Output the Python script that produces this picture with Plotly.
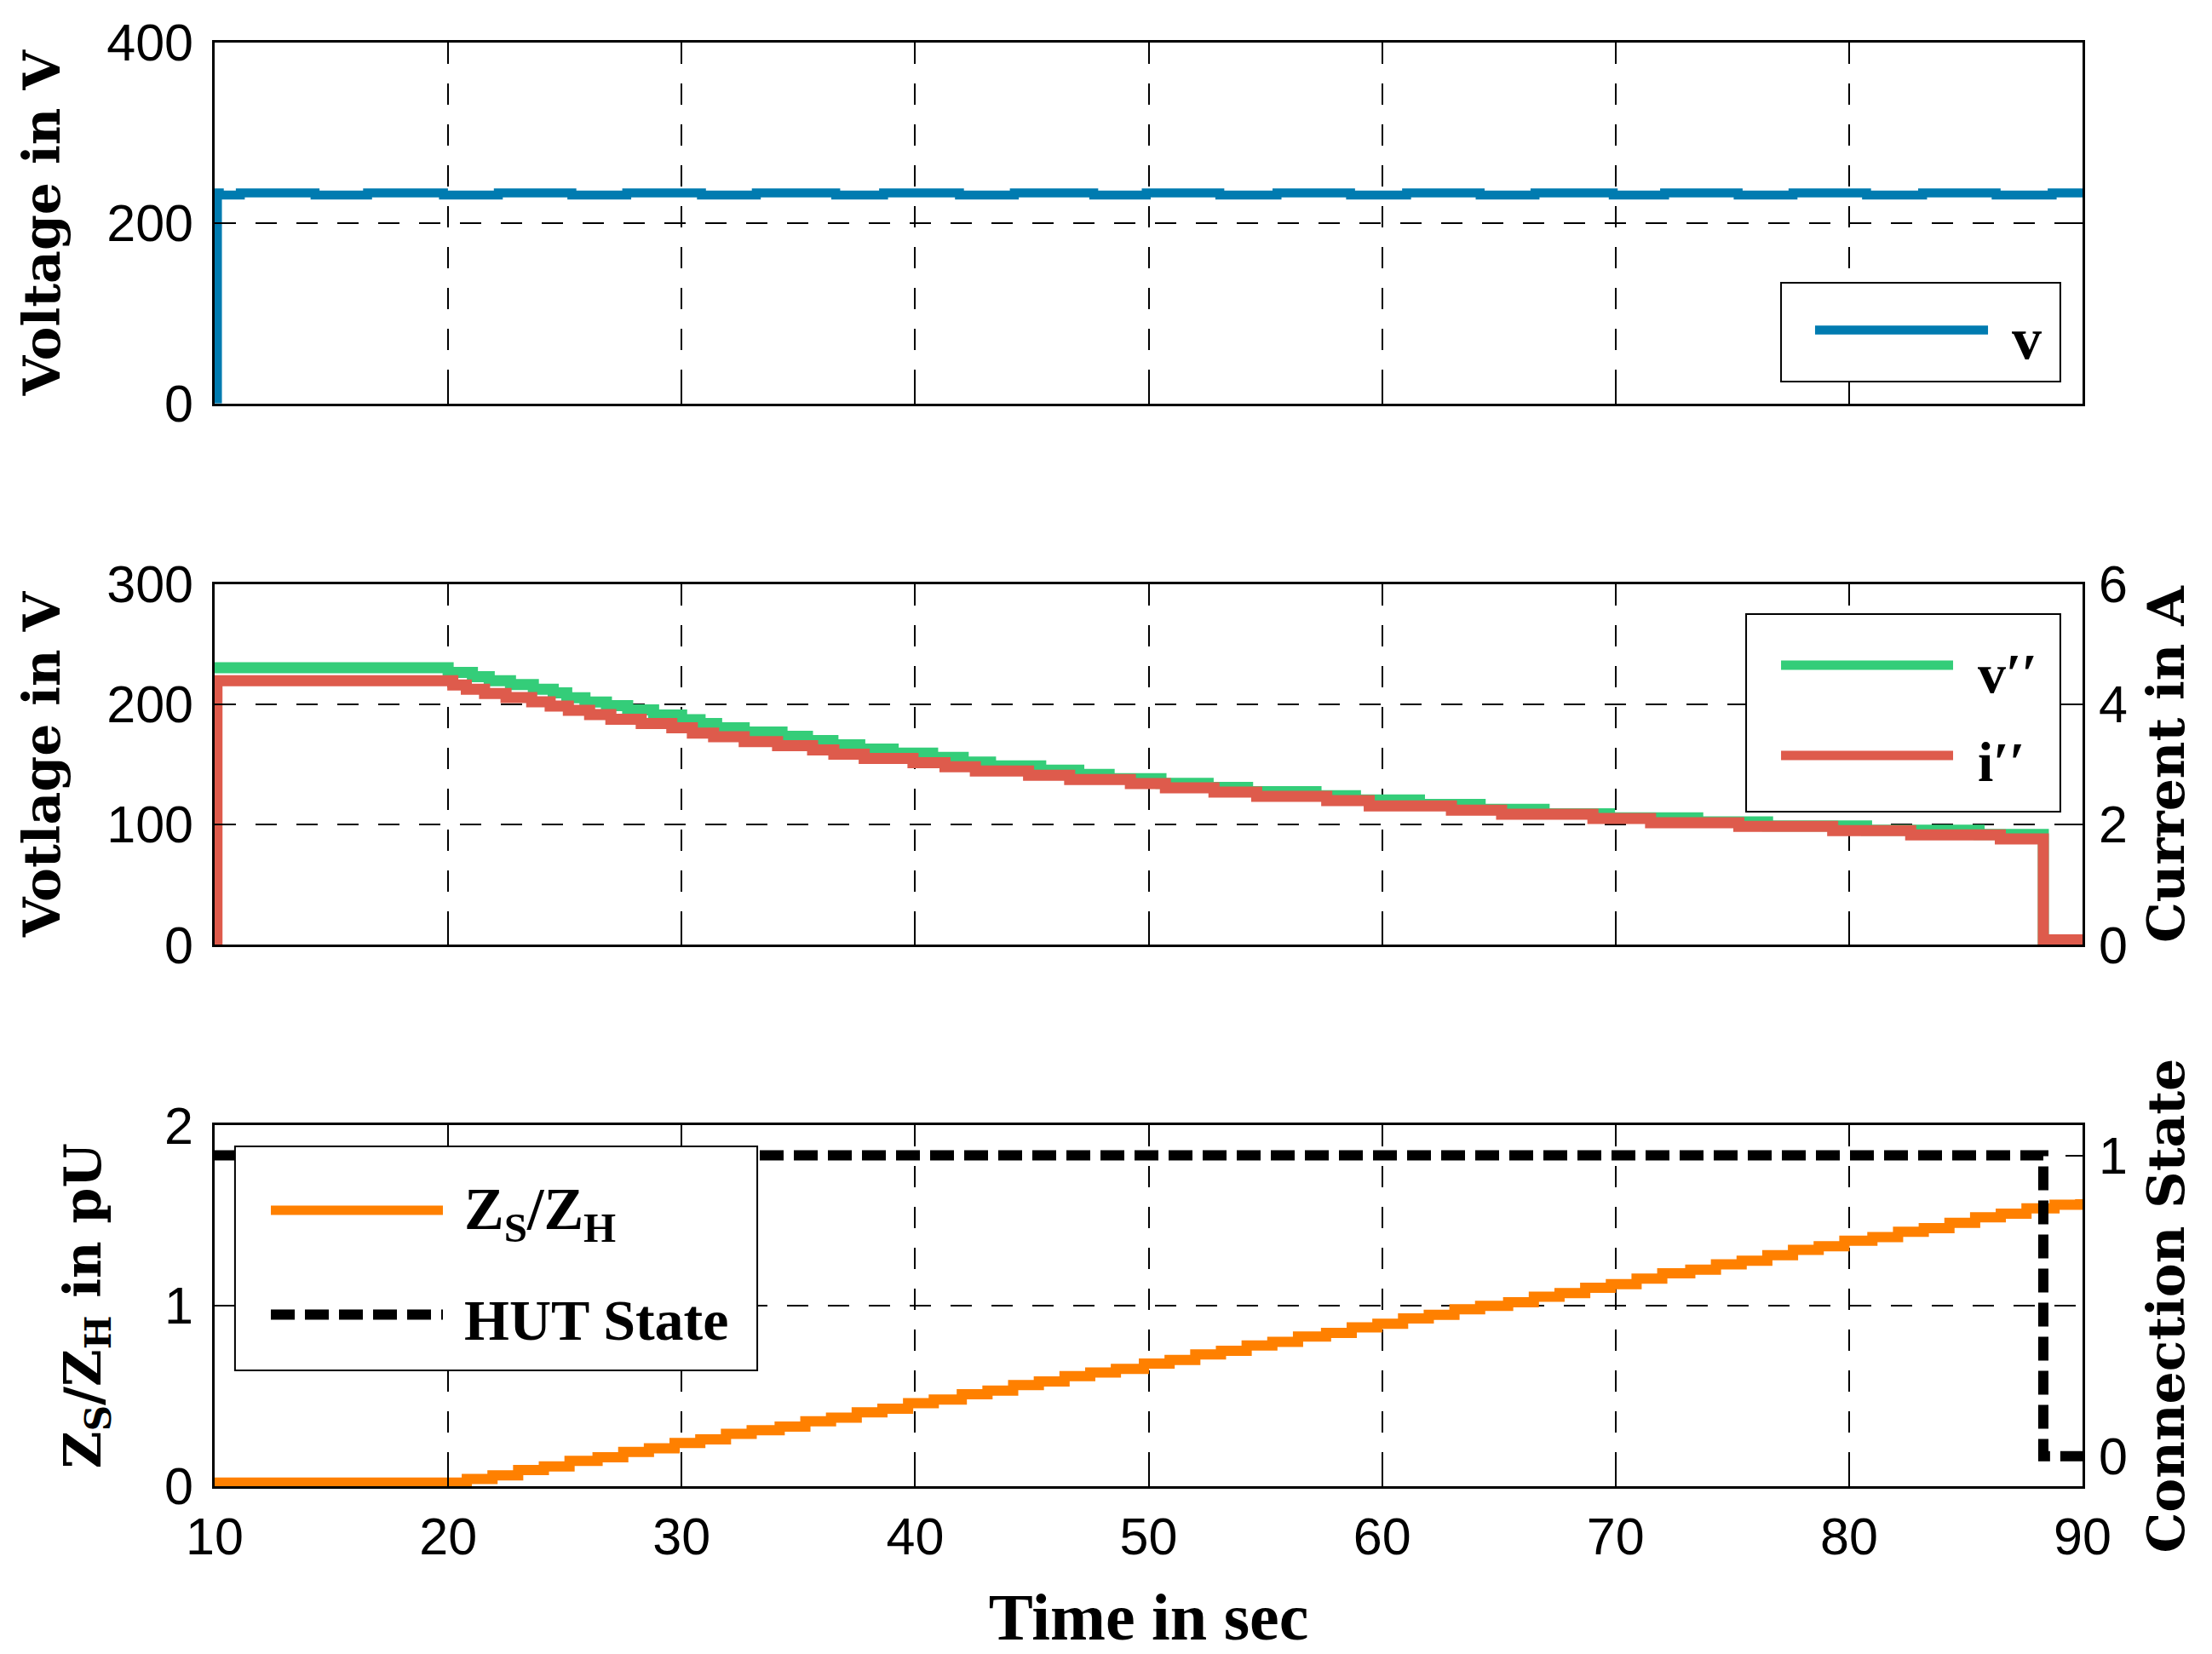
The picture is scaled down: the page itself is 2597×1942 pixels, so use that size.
import plotly.graph_objs as go

# ---- data ----
# top panel: supply voltage v (V)
v_time = [10.0, 10.12, 10.2, 11.1, 14.3, 16.55, 19.8, 22.15, 25.3, 27.65, 30.85, 33.2,
          36.6, 38.65, 41.9, 44.25, 47.65, 49.9, 53.05, 55.5, 58.65, 61.05, 64.2, 66.55,
          69.9, 72.1, 75.25, 77.6, 80.75, 83.15, 86.3, 88.7, 90.0]
v_volt = [5, 233.4, 231.0, 233.4, 231.0, 233.4, 231.0, 233.4, 231.0, 233.4, 231.0, 233.4,
          231.0, 233.4, 231.0, 233.4, 231.0, 233.4, 231.0, 233.4, 231.0, 233.4, 231.0, 233.4,
          231.0, 233.4, 231.0, 233.4, 231.0, 233.4, 231.0, 233.4, 233.4]

# middle panel: v'' (V, left axis)
v2_time = [10.0, 20.0, 21.04, 21.76, 22.67, 23.65, 24.5, 25.08, 25.86, 26.78, 27.69, 28.8,
           30.0, 30.79, 31.5, 32.68, 34.3, 35.39, 36.48, 37.63, 39.06, 40.75, 42.06, 43.23,
           45.38, 47.01, 48.31, 50.53, 52.55, 54.24, 57.17, 58.86, 61.6, 64.2, 66.94, 69.74,
           73.52, 76.51, 80.75, 85.57, 88.32, 90.0]
v2_volt = [230.4, 226.5, 223.0, 219.5, 216.4, 212.4, 209.4, 205.4, 201.8, 198.8, 195.3, 191.0,
           187.2, 184.0, 180.4, 176.9, 173.4, 169.9, 166.3, 162.8, 159.3, 155.8, 152.0, 148.7,
           145.2, 141.6, 138.1, 134.3, 130.8, 127.3, 124.0, 120.5, 116.7, 112.7, 108.9, 105.6,
           102.3, 98.8, 95.3, 91.7, -1.5, -1.5]

# middle panel: i'' (A, right axis)
i2_time = [10.0, 10.1, 20.2, 20.78, 21.56, 22.48, 23.58, 24.37, 25.15, 26.06, 26.97, 28.27,
           29.58, 30.46, 31.37, 32.68, 34.11, 35.61, 36.52, 37.82, 39.91, 41.28, 42.58, 44.86,
           46.62, 49.22, 50.72, 52.8, 54.63, 57.63, 59.45, 62.97, 65.12, 69.03, 71.5, 75.28,
           79.3, 82.64, 86.48, 88.32, 90.0]
i2_amp = [0.0, 4.39, 4.32, 4.25, 4.18, 4.11, 4.04, 3.97, 3.90, 3.83, 3.75, 3.68,
          3.61, 3.52, 3.46, 3.38, 3.31, 3.24, 3.17, 3.10, 3.03, 2.96, 2.89, 2.82,
          2.75, 2.68, 2.61, 2.54, 2.47, 2.40, 2.31, 2.24, 2.17, 2.10, 2.03, 1.97,
          1.90, 1.83, 1.76, 0.085, 0.085]

# bottom panel: Zs/Zh (pU, left axis)
z_time = [10.0, 20.8, 21.9, 23.0, 24.1, 25.2, 26.4, 27.5, 28.6, 29.7, 30.8, 31.9, 33.0,
          34.2, 35.3, 36.4, 37.5, 38.6, 39.7, 40.8, 42.0, 43.1, 44.2, 45.3, 46.4, 47.5,
          48.6, 49.8, 50.9, 52.0, 53.1, 54.2, 55.3, 56.4, 57.6, 58.7, 59.8, 60.9, 62.0,
          63.1, 64.2, 65.4, 66.5, 67.6, 68.7, 69.8, 70.9, 72.0, 73.2, 74.3, 75.4, 76.5,
          77.6, 78.7, 79.8, 81.0, 82.1, 83.2, 84.3, 85.4, 86.5, 87.6, 88.8, 89.9]
z_ratio = [0.02, 0.04, 0.06, 0.09, 0.11, 0.14, 0.16, 0.19, 0.21, 0.24, 0.26, 0.29, 0.31,
           0.33, 0.36, 0.38, 0.41, 0.43, 0.46, 0.48, 0.51, 0.53, 0.56, 0.58, 0.61, 0.63,
           0.65, 0.68, 0.70, 0.73, 0.75, 0.78, 0.80, 0.83, 0.85, 0.88, 0.90, 0.93, 0.95,
           0.98, 1.00, 1.02, 1.05, 1.07, 1.10, 1.12, 1.15, 1.18, 1.20, 1.23, 1.25, 1.28,
           1.31, 1.33, 1.36, 1.38, 1.41, 1.43, 1.46, 1.49, 1.51, 1.54, 1.56, 1.59]

# bottom panel: HUT connection state (right axis)
hut_time = [10.0, 88.32, 90.0]
hut_state = [1, 0, 0]

x_ticks = [10, 20, 30, 40, 50, 60, 70, 80, 90]

# ---- styling ----
BLUE = "#007BB0"
GREEN = "#34CD79"
RED = "#DE5B4C"
ORANGE = "#FF8000"

tick_font = dict(family="Liberation Sans, Arial, sans-serif", size=61, color="black")
title_font = dict(family="DejaVu Serif, serif", size=60, color="black")
leg_font = dict(family="Liberation Serif, Times New Roman, serif", size=66, color="black")
GRID_DASH = "25px,23px"
HUT_DASH = "28px,12px"


def xaxis_style(anchor, labels):
    return dict(anchor=anchor, domain=[0, 1], range=[10, 90], tickvals=x_ticks,
                showticklabels=labels, ticks="inside", ticklen=20, tickwidth=2,
                tickcolor="black", showline=True, linecolor="black", linewidth=2.5,
                mirror="ticks", showgrid=True, gridcolor="black", gridwidth=2,
                griddash=GRID_DASH, zeroline=False, tickfont=tick_font,
                ticklabelstandoff=4)


def yaxis_style(domain, rng, ticks, title, standoff, mirror):
    return dict(domain=domain, range=rng, tickvals=ticks, ticks="inside", ticklen=20,
                tickwidth=2, tickcolor="black", showline=True, linecolor="black",
                linewidth=2.5, mirror=mirror, showgrid=True, gridcolor="black",
                gridwidth=2, griddash=GRID_DASH, zeroline=False, tickfont=tick_font,
                ticklabelstandoff=10,
                title=dict(text=title, font=title_font, standoff=standoff))


def right_axis(overlay, anchor, rng, ticks, title):
    return dict(overlaying=overlay, anchor=anchor, side="right", range=rng, tickvals=ticks,
                ticks="inside", ticklen=20, tickwidth=2, tickcolor="black", showline=True,
                linecolor="black", linewidth=2.5, showgrid=False, zeroline=False,
                tickfont=tick_font, ticklabelstandoff=4,
                title=dict(text=title, font=title_font, standoff=26))


fig = go.Figure()

fig.add_trace(go.Scatter(x=v_time, y=v_volt, mode="lines", line=dict(color=BLUE, width=10.5, shape="hv"),
                         xaxis="x", yaxis="y", showlegend=False))
fig.add_trace(go.Scatter(x=v2_time, y=v2_volt, mode="lines", line=dict(color=GREEN, width=13, shape="hv"),
                         xaxis="x2", yaxis="y2", showlegend=False))
fig.add_trace(go.Scatter(x=i2_time, y=i2_amp, mode="lines", line=dict(color=RED, width=13, shape="hv"),
                         xaxis="x2", yaxis="y3", showlegend=False))
fig.add_trace(go.Scatter(x=z_time, y=z_ratio, mode="lines", line=dict(color=ORANGE, width=12, shape="hv"),
                         xaxis="x3", yaxis="y4", showlegend=False))
fig.add_trace(go.Scatter(x=hut_time, y=hut_state, mode="lines",
                         line=dict(color="black", width=12, shape="hv", dash=HUT_DASH),
                         xaxis="x3", yaxis="y5", showlegend=False))


# legend boxes drawn by hand (long line samples like the original)
def box(x0, x1, y0, y1):
    return dict(type="rect", xref="paper", yref="paper", x0=x0, x1=x1, y0=y0, y1=y1,
                fillcolor="white", line=dict(color="black", width=2), layer="above")


def sample(x0, x1, y, color, width, dash="solid"):
    return dict(type="line", xref="paper", yref="paper", x0=x0, x1=x1, y0=y, y1=y,
                line=dict(color=color, width=width, dash=dash), layer="above")


shapes = [
    box(0.8386, 0.9881, 0.7652, 0.8336), sample(0.8568, 0.9494, 0.8009, BLUE, 10.5),
    box(0.8199, 0.9881, 0.4673, 0.6041), sample(0.8386, 0.9307, 0.5687, GREEN, 11),
    sample(0.8386, 0.9307, 0.5062, RED, 11),
    box(0.0109, 0.2905, 0.0802, 0.2354), sample(0.0301, 0.1222, 0.1912, ORANGE, 11),
    sample(0.0301, 0.1222, 0.1189, "black", 12, HUT_DASH),
]


def leg_text(x, y, text, size=66):
    f = dict(leg_font)
    f["size"] = size
    return dict(xref="paper", yref="paper", x=x, y=y, text=text, showarrow=False,
                xanchor="left", yanchor="middle", font=f)


annotations = [
    leg_text(0.9612, 0.7947, "<b>v</b>", 70),
    leg_text(0.9430, 0.5634, "<b>v′′</b>", 66),
    leg_text(0.9430, 0.5015, "<b>i′′</b>", 66),
    leg_text(0.1327, 0.1890, "<b>Z<sub>S</sub>/Z<sub>H</sub></b>", 70),
    leg_text(0.1327, 0.1150, "<b>HUT State</b>", 68),
]

fig.update_layout(
    width=2597, height=1942,
    margin=dict(l=252, r=152, t=50, b=197),
    paper_bgcolor="white", plot_bgcolor="white",
    showlegend=False,
    xaxis=xaxis_style("y", False),
    xaxis2=xaxis_style("y2", False),
    xaxis3=dict(xaxis_style("y4", True),
                title=dict(text="<b>Time in sec</b>", standoff=40,
                           font=dict(family="Liberation Serif, Times New Roman, serif",
                                     size=78, color="black"))),
    yaxis=yaxis_style([0.75, 1.0], [0, 400], [0, 200, 400], "<b>Voltage in V</b>", 36, "ticks"),
    yaxis2=yaxis_style([0.375, 0.625], [0, 300], [0, 100, 200, 300], "<b>Votlage in V</b>", 36, False),
    yaxis3=right_axis("y2", "x2", [0, 6], [0, 2, 4, 6], "<b>Current in A</b>"),
    yaxis4=yaxis_style([0.0, 0.25], [0, 2], [0, 1, 2],
                       "<b>Z<sub>S</sub>/Z<sub>H</sub> in pU</b>", 56, False),
    yaxis5=right_axis("y4", "x3", [-0.1, 1.1], [0, 1], "<b>Connection State</b>"),
    shapes=shapes,
    annotations=annotations,
)
for ax in ["yaxis", "yaxis2", "yaxis3", "yaxis4", "yaxis5", "xaxis3"]:
    fig.layout[ax].automargin = False

# drop the default page margin so the figure sits at the window's corner
fig.write_html("out.html", config={"displayModeBar": False},
               post_script="document.body.style.margin='0px';")
